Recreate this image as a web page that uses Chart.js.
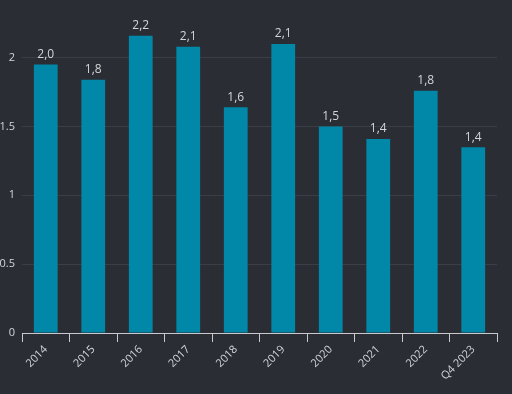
<!DOCTYPE html>
<html>
    <head>
        <title>Chart</title>
        <script src="https://cdn.jsdelivr.net/npm/chart.js@4/dist/chart.umd.min.js"></script>
        <style>
            html, body { margin: 0; padding: 0; background: #2b2d35; }
            #wrap { width: 512px; height: 394px; }
        </style>
    </head>
    <body>
        <div id="wrap"><canvas id="chart"></canvas></div>

        <script>
            const labels = ['2014', '2015', '2016', '2017', '2018', '2019', '2020', '2021', '2022', 'Q4 2023']
            const values = [1.95, 1.84, 2.16, 2.08, 1.64, 2.1, 1.5, 1.41, 1.76, 1.35]
            const yTicks = [0, 0.5, 1, 1.5, 2]

            const textColor = '#d4d5d8'
            const fontFamily = '"Open Sans", "DejaVu Sans", sans-serif'

            // draws the value above each bar, with a decimal comma
            const valueLabels = {
                id: 'valueLabels',
                afterDatasetsDraw(chart) {
                    const ctx = chart.ctx
                    const meta = chart.getDatasetMeta(0)
                    ctx.save()
                    ctx.fillStyle = textColor
                    ctx.font = '12px ' + fontFamily
                    ctx.textAlign = 'center'
                    ctx.textBaseline = 'bottom'
                    meta.data.forEach((bar, i) => {
                        const rounded = Math.round(values[i] * 10 + 1e-6) / 10
                        const txt = rounded.toFixed(1).replace('.', ',')
                        ctx.fillText(txt, bar.x, bar.y - 4)
                    })
                    ctx.restore()
                },
            }

            new Chart('chart', {
                type: 'bar',
                data: {
                    labels,
                    datasets: [
                        {
                            data: values,
                            backgroundColor: '#0188a8',
                            barPercentage: 0.5,
                            categoryPercentage: 1,
                        },
                    ],
                },
                options: {
                    responsive: true,
                    maintainAspectRatio: false,
                    animation: false,
                    layout: { padding: { top: 9, right: 15, left: 0, bottom: 0 } },
                    plugins: {
                        legend: { display: false },
                        tooltip: { enabled: false },
                    },
                    scales: {
                        x: {
                            grid: {
                                drawOnChartArea: false,
                                color: '#c9cacd',
                                tickLength: 9,
                            },
                            border: { color: '#c9cacd' },
                            ticks: {
                                color: textColor,
                                font: { family: fontFamily, size: 11 },
                                minRotation: 45,
                                maxRotation: 45,
                                padding: 1,
                            },
                            afterFit: s => { s.height = 61 },
                        },
                        y: {
                            min: 0,
                            max: 2.32,
                            grid: { color: '#3b3e47', drawTicks: false },
                            border: { display: false },
                            ticks: {
                                color: textColor,
                                font: { family: fontFamily, size: 11 },
                                padding: 7,
                                callback: v => String(v),
                            },
                            afterBuildTicks: s => {
                                s.ticks = yTicks.map(v => ({ value: v }))
                            },
                            afterFit: s => { s.width = 22 },
                        },
                    },
                },
                plugins: [valueLabels],
            })
        </script>
    </body>
</html>
